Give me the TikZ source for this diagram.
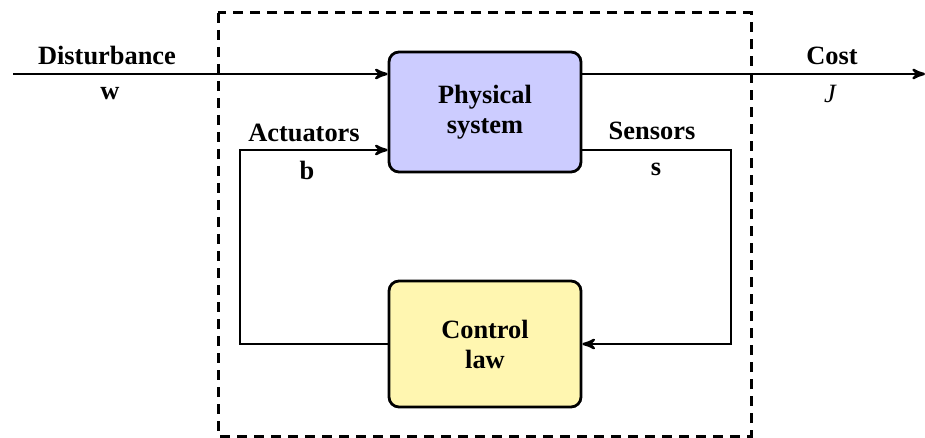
\documentclass[tikz,border=0pt]{standalone}
\usepackage{fontspec}
\setmainfont{Liberation Serif}
\usetikzlibrary{positioning, arrows}
\definecolor{plantfill}{RGB}{204,204,255}
\definecolor{lawfill}{RGB}{255,246,176}

\begin{document}
\begin{tikzpicture}[x=0.5pt,y=-0.5pt,>=stealth',line width=1.2pt,
    font=\fontsize{13.2}{15}\selectfont,
    block/.style={draw,rounded corners=5pt,line width=1.4pt,minimum width=96pt,align=center,font=\fontsize{13.2}{15}\selectfont\bfseries},
    lbl/.style={font=\fontsize{13.2}{15}\selectfont\bfseries}]
    \useasboundingbox (0,0) rectangle (925,438);
    % closed loop
    \draw[line width=1.5pt,dash pattern=on 5pt off 3.5pt] (218,13) rectangle (751,436);
    \node[block,fill=plantfill,minimum height=60pt] (plant) at (485,112) {Physical\\system};
    \node[block,fill=lawfill,minimum height=63pt] (law) at (485,344) {Control\\law};
    \coordinate (win) at (13,74);
    \coordinate (jout) at (925,74);
    \coordinate (act) at (240,150);
    \coordinate (sens) at (731,150);
    \draw[->] (win) -- (win -| plant.west);
    \draw[->] (jout -| plant.east) -- (jout);
    \draw[->] (law.west) -| (act) -- (act -| plant.west);
    \draw[->] (sens -| plant.east) -- (sens) |- (law.east);
    % labels
    \node[lbl] (dist) at (107,56) {Disturbance};
    \node[lbl] (w) at (110,94) {w};
    \node[lbl] (actl) at (304,133) {Actuators};
    \node[lbl] (b) at (307,170) {b};
    \node[lbl] (sensl) at (652,131) {Sensors};
    \node[lbl] (s) at (656,169) {s};
    \node[lbl] (cost) at (832,56) {Cost};
    \node[font=\fontsize{13.2}{15}\selectfont\itshape] (J) at (830,94) {J};
\end{tikzpicture}
\end{document}
